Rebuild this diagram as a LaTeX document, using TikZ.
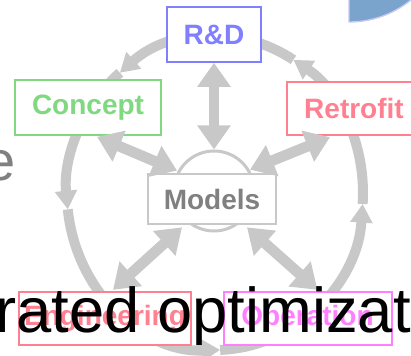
\documentclass[tikz,border=0pt]{standalone}
\usepackage{fontspec}
\setmainfont{Liberation Sans}
\usetikzlibrary{arrows.meta,calc}

\definecolor{rdblue}{RGB}{128,128,255}
\definecolor{conceptgreen}{RGB}{128,216,128}
\definecolor{retropink}{RGB}{255,128,144}
\definecolor{operpink}{RGB}{255,128,255}
\definecolor{ringgray}{RGB}{200,200,200}
\definecolor{textgray}{RGB}{128,128,128}
\definecolor{piefill}{RGB}{123,164,204}
\definecolor{pieedge}{RGB}{200,200,245}

\tikzset{every picture/.style={line width=0.75pt}}
\tikzset{
  stage/.style={draw, line width=1.5pt, fill=white, inner sep=0pt,
    font=\bfseries\fontsize{21}{24}\selectfont, minimum height=40pt},
  ring/.style={draw=ringgray, line width=7.5pt,
    -{Triangle[width=16pt,length=14pt]}},
  spoke/.style={draw=ringgray, line width=8pt,
    {Triangle[width=24pt,length=18pt]}-{Triangle[width=24pt,length=18pt]}},
}

\begin{document}
\begin{tikzpicture}[x=0.75pt,y=0.75pt,yscale=-1,xscale=1]
\useasboundingbox (0,0) rectangle (411,356);

%Shape: Pie
\filldraw [fill=piefill, draw=pieedge, line width=1pt] (349,-76) -- (349,22) arc [start angle=90, end angle=0, radius=98] -- cycle;

% Text Node
\node [anchor=base east, inner sep=0pt, text=textgray, font=\fontsize{42}{45}\selectfont] (lefte) at (16,181) {e};

%Curve Lines: outer cycle
\coordinate (hub) at (215,193);
\foreach \a/\b in {302/230, 230/174, 174/88, 88/4, 4/-58}
  \draw [ring] ($(hub)+(\a:148 and 157)$) arc [start angle=\a, end angle=\b, x radius=148, y radius=157];

% Stage nodes
\node [stage, draw=rdblue, text=rdblue, minimum width=70pt, minimum height=41pt] (rd) at (214,34.5) {R\&D};
\node [stage, draw=conceptgreen, text=conceptgreen, minimum width=110pt, minimum height=41pt] (concept) at (88,107.5) {Concept};
\node [stage, draw=retropink, text=retropink, minimum width=100pt] (retrofit) at (354,108.5) {Retrofit};
\node [stage, draw=retropink, text=retropink, minimum width=129pt] (eng) at (105,318.5) {Engineering};
\node [stage, draw=operpink, text=operpink, minimum width=126pt] (oper) at (307.5,318.5) {Operation};

%Shape: Dome behind models
\node [circle, draw=ringgray, line width=2.25pt, fill=white, minimum size=60pt, inner sep=0pt] (dome) at (214,191) {};
\node [stage, draw=ringgray, text=textgray, minimum width=96pt, minimum height=38pt] (models) at (212,199) {Models};

%Straight Lines: spokes
\draw [spoke] (rd.south) -- (dome.north);
\draw [spoke] ($(concept.south)+(9,1)$) -- ($(models.north)+(-35,-2)$);
\draw [spoke] ($(retrofit.south)+(-24,1)$) -- ($(models.north)+(38,-3)$);
\draw [spoke] ($(eng.north)+(8,-1)$) -- ($(models.south)+(-30,2)$);
\draw [spoke] ($(oper.north)+(10,-1)$) -- ($(models.south)+(35,2)$);

% Text Node
\node [anchor=base west, inner sep=0pt, font=\fontsize{47.5}{50}\selectfont] (title) at (-5,333) {rated optimizat};

\end{tikzpicture}
\end{document}
